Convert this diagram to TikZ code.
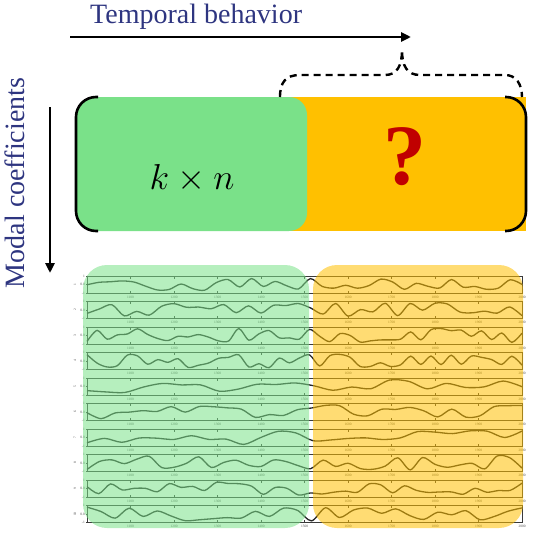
\documentclass[tikz,border=0pt]{standalone}
\usepackage{fontspec}
\setmainfont{Liberation Serif}
\usetikzlibrary{positioning,arrows.meta}
\definecolor{textblue}{HTML}{2E3580}
\definecolor{cellgreen}{HTML}{7AE189}
\definecolor{cellorange}{HTML}{FFC000}
\definecolor{qred}{HTML}{C00000}
\definecolor{framegray}{HTML}{3A3A3A}
\tikzset{
  axisarrow/.style={-{Triangle[length=10pt,width=9pt]}, line width=2.6pt},
  matbracket/.style={line width=2.6pt, rounded corners=20pt},
  bracepath/.style={line width=2.4pt, dash pattern=on 7pt off 5pt},
  rowframe/.style={draw=framegray, line width=0.9pt},
  wave/.style={draw=black!85, line width=1.3pt},
  tinylabel/.style={font=\fontsize{3.5}{4}\selectfont, text=black!70, inner sep=0pt},
  overlay box/.style={opacity=0.55, rounded corners=24pt}
}
\begin{document}
\begin{tikzpicture}[x=1pt, y=-1pt]
  \useasboundingbox (0,0) rectangle (538,538);

  % axes labels and arrows
  \node[textblue, font=\fontsize{28}{30}\selectfont, anchor=base west, inner sep=0pt] (title) at (90,23.5) {Temporal behavior};
  \coordinate (tstart) at (70,37);
  \coordinate (tend) at (411,37);
  \draw[axisarrow] (tstart) -- (tend);
  \node[textblue, font=\fontsize{28}{30}\selectfont, rotate=90, anchor=base, inner sep=0pt] (modal) at (24,183) {Modal coefficients};
  \coordinate (mstart) at (50,107);
  \coordinate (mend) at (50,273);
  \draw[axisarrow] (mstart) -- (mend);

  % top matrix
  \fill[cellorange] (290,97) rectangle (526,231);
  \fill[cellgreen, rounded corners=18pt] (76,97) rectangle (307,231);
  \node[font=\fontsize{24.88}{28}\selectfont, scale=1.45] (known) at (192,178) {$k \times n$};
  \node[font=\fontsize{86}{90}\selectfont\bfseries, text=qred, inner sep=0pt] (unknown) at (405,157) {?};
  \draw[matbracket] (98,97) -- (76,97) -- (76,231) -- (98,231);
  \draw[matbracket] (505,97) -- (526,97) -- (526,231) -- (505,231);

  % dashed brace over the unknown part
  \draw[bracepath] (280,97) .. controls (280,82) and (286,75) .. (300,75) -- (385,75)
    .. controls (397,75) and (402,66) .. (402,50)
    .. controls (402,66) and (407,75) .. (420,75) -- (505,75)
    .. controls (516,75) and (522,84) .. (522,97);

  % stacked time series
  \pgfmathsetseed{11}
  \foreach \i/\ns in {0/38, 1/36, 2/44, 3/44, 4/24, 5/32, 6/26, 7/36, 8/38, 9/32}{
    \pgfmathsetmacro{\rowtop}{276+25.5*\i}
    \pgfmathsetmacro{\rowbot}{\rowtop+17}
    \pgfmathsetmacro{\rowmid}{\rowtop+8.5}
    \pgfmathtruncatemacro{\rownum}{\i+1}
    \draw[rowframe] (87,\rowtop) rectangle (522,\rowbot);
    \foreach \t in {1,...,9}{
      \draw[rowframe, line width=0.7pt] (87+43.5*\t,\rowtop) -- ++(0,2.5);
      \draw[rowframe, line width=0.7pt] (87+43.5*\t,\rowbot) -- ++(0,-2.5);
    }
    \foreach \t in {1,...,10}{
      \pgfmathtruncatemacro{\yr}{1000+100*\t}
      \node[tinylabel] (yr-\i-\t) at (87+43.5*\t,\rowbot+4) {\yr};
    }
    \draw[rowframe, line width=0.6pt] (87,\rowtop) -- ++(-1.5,0) (87,\rowmid) -- ++(-1.5,0) (87,\rowbot) -- ++(-1.5,0);
    \node[tinylabel, anchor=east] (top-\i) at (85,\rowtop) {1};
    \node[tinylabel, anchor=east] (zero-\i) at (85,\rowmid) {0.0};
    \node[tinylabel, anchor=east] (bot-\i) at (85,\rowbot) {-1};
    \node[tinylabel, rotate=90] (row-\i) at (75,\rowmid) {\rownum};
    \draw[wave] plot[smooth, samples=\ns, domain=87:522, variable=\u] (\u, {\rowmid+7*rand});
  }

  % known / unknown overlays
  \fill[cellgreen, overlay box] (83,265) rectangle (309,528);
  \fill[cellorange, overlay box] (313,265) rectangle (523,528);
\end{tikzpicture}
\end{document}
